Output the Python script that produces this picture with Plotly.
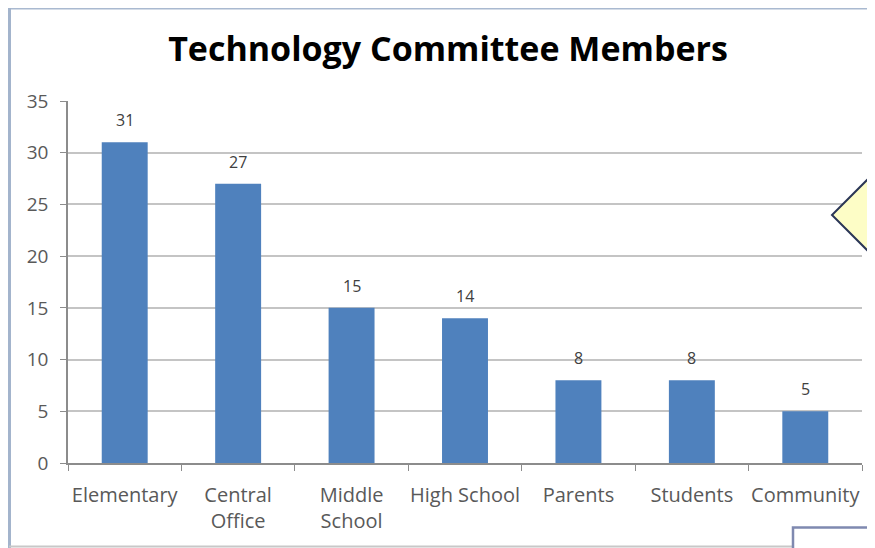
import plotly.graph_objects as go

# ---- data ----
categories = ["Elementary", "Central<br>Office", "Middle<br>School", "High School",
              "Parents", "Students", "Community"]
members = [31, 27, 15, 14, 8, 8, 5]
y_ticks = [0, 5, 10, 15, 20, 25, 30, 35]
title_text = "Technology Committee Members"

# the page body adds an 8px offset; work in window pixels and compensate
OFF = 8
W, H = 875 - OFF, 548 - OFF
L, R, T, B = 68 - OFF, 13, 101 - OFF, 85
PW, PH = W - L - R, H - T - B


def px(x):
    return (x - OFF - L) / PW


def py(y):
    return (H - B - (y - OFF)) / PH


FONT = "Open Sans"

fig = go.Figure()
fig.add_trace(go.Bar(
    x=categories, y=members,
    marker=dict(color="#4F81BD", line=dict(width=0)),
    hoverinfo="x+y",
))

annotations = []
for c, v in zip(categories, members):
    annotations.append(dict(
        x=c, y=v, xref="x", yref="y", text=str(v), showarrow=False,
        yanchor="bottom", yshift=9,
        font=dict(family=FONT, size=16, color="#404040"),
    ))

shapes = [
    # outer frame
    dict(type="line", xref="paper", yref="paper", x0=px(4), x1=px(880), y0=py(8.5), y1=py(8.5),
         line=dict(color="#A9B9D0", width=2), layer="above"),
    dict(type="line", xref="paper", yref="paper", x0=px(9.5), x1=px(9.5), y0=py(5), y1=py(552),
         line=dict(color="#A3B4CC", width=3), layer="above"),
    dict(type="line", xref="paper", yref="paper", x0=px(9), x1=px(880), y0=py(546.5), y1=py(546.5),
         line=dict(color="#C8C8C8", width=2), layer="above"),
    # callout pointer (partially visible)
    dict(type="path", xref="paper", yref="paper",
         path=f"M {px(905)} {py(142)} L {px(832)} {py(215)} L {px(905)} {py(288)} Z",
         fillcolor="#FDFDC6", line=dict(color="#2B3656", width=2), layer="above"),
    # box at bottom right
    dict(type="rect", xref="paper", yref="paper",
         x0=px(793), x1=px(905), y0=py(527.5), y1=py(560),
         fillcolor="#FFFFFF", line=dict(color="#7F89B0", width=2.5), layer="above"),
]

fig.update_layout(
    width=W, height=H, autosize=False,
    margin=dict(l=L, r=R, t=T, b=B, pad=0, autoexpand=False),
    paper_bgcolor="#FFFFFF", plot_bgcolor="#FFFFFF",
    showlegend=False,
    bargap=0.595,
    title=dict(text=f"<b>{title_text}</b>", x=(448 - OFF) / W, xanchor="center",
               y=1 - (49 - OFF) / H, yanchor="middle", yref="container",
               font=dict(family=FONT, size=34, color="#000000")),
    xaxis=dict(
        showgrid=False, showline=True, linecolor="#8C8C8C", linewidth=1.5,
        ticks="outside", tickson="boundaries", ticklen=6, tickcolor="#8C8C8C",
        tickfont=dict(family=FONT, size=20, color="#595959"), tickangle=0,
        ticklabelstandoff=13, fixedrange=True, automargin=False,
    ),
    yaxis=dict(
        range=[0, 35], tickvals=y_ticks, showgrid=True, gridcolor="#C4C4C4", gridwidth=1.5,
        showline=True, linecolor="#8C8C8C", linewidth=1.5,
        ticks="outside", ticklen=6, tickcolor="#8C8C8C",
        tickfont=dict(family=FONT, size=19, color="#595959"),
        ticklabelstandoff=8, zeroline=False, fixedrange=True, automargin=False,
    ),
    annotations=annotations,
    shapes=shapes,
)

fig.write_html("out.html")
